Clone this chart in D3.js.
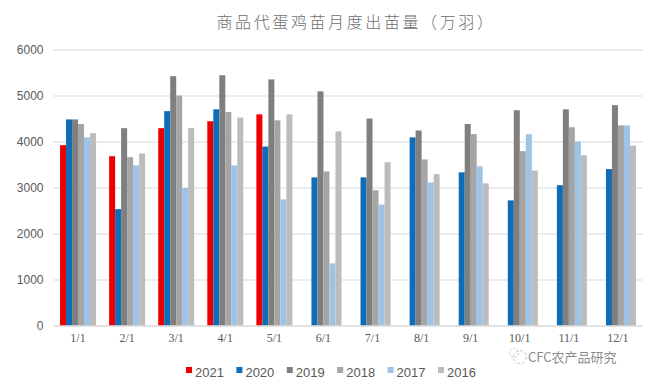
<!DOCTYPE html>
<html>
<head>
<meta charset="utf-8">
<script src="https://cdn.jsdelivr.net/npm/d3@7"></script>
<style>
  html, body { margin: 0; padding: 0; background: #fff; }
</style>
</head>
<body>
<div id="chart"></div>
<script>
const months = ["1/1", "2/1", "3/1", "4/1", "5/1", "6/1", "7/1", "8/1", "9/1", "10/1", "11/1", "12/1"];
const years = ["2021", "2020", "2019", "2018", "2017", "2016"];
const colors = ["#ee0000", "#0f6cb6", "#7f7f7f", "#a5a5a5", "#9dc3e6", "#bcbcbc"];
const yTicks = [0, 1000, 2000, 3000, 4000, 5000, 6000];

const v2021 = [3920, 3680, 4290, 4440, 4590, null, null, null, null, null, null, null];
const v2020 = [4480, 2530, 4660, 4700, 3890, 3220, 3220, 4090, 3330, 2720, 3050, 3400];
const v2019 = [4480, 4290, 5420, 5440, 5350, 5090, 4500, 4240, 4380, 4680, 4700, 4790];
const v2018 = [4380, 3660, 5000, 4640, 4460, 3350, 2940, 3610, 4160, 3790, 4310, 4350];
const v2017 = [4090, 3480, 2990, 3480, 2740, 1350, 2630, 3110, 3460, 4160, 4000, 4350];
const v2016 = [4180, 3740, 4290, 4520, 4590, 4220, 3550, 3290, 3090, 3370, 3700, 3910];
const allValues = [v2021, v2020, v2019, v2018, v2017, v2016];

const width = 656;
const height = 385;
const margin = { top: 49.5, right: 13.5, bottom: 59.5, left: 53.5 };
const sansFont = "'Liberation Sans', sans-serif";
const serifFont = "'Liberation Serif', serif";
const cjkFont = "'Noto Sans CJK SC', sans-serif";

const svg = d3.select("#chart")
  .append("svg")
  .attr("width", width)
  .attr("height", height)
  .style("display", "block");

const x = d3.scaleBand()
  .domain(months)
  .range([margin.left, width - margin.right]);

const x1 = d3.scaleBand()
  .domain(years)
  .range([0, 36]);

const y = d3.scaleLinear()
  .domain([0, 6000])
  .range([height - margin.bottom, margin.top]);

// gridlines come from the y axis with long ticks
const yAxis = svg.append("g")
  .attr("transform", `translate(${margin.left},0)`)
  .call(d3.axisLeft(y).tickValues(yTicks).tickSize(-(width - margin.left - margin.right)).tickPadding(10).tickFormat(d3.format("d")));
yAxis.select(".domain").remove();
yAxis.selectAll("line").attr("stroke", "#d9d9d9").attr("stroke-width", 1);
yAxis.selectAll("text")
  .attr("fill", "#595959")
  .style("font-family", sansFont)
  .style("font-size", "12px");

const groups = svg.append("g");
years.forEach((yr, i) => {
  groups.selectAll(null)
    .data(allValues[i])
    .join("rect")
    .filter(d => d !== null)
    .attr("x", (d, j) => 0)
    .attr("fill", colors[i]);
  groups.selectAll("rect").remove();
});

years.forEach((yr, i) => {
  const rows = months.map((m, j) => ({ month: m, value: allValues[i][j] })).filter(d => d.value !== null);
  svg.append("g")
    .selectAll("rect")
    .data(rows)
    .join("rect")
    .attr("x", d => x(d.month) + (x.bandwidth() - 36) / 2 + x1(yr))
    .attr("y", d => y(d.value))
    .attr("width", x1.bandwidth())
    .attr("height", d => y(0) - y(d.value))
    .attr("fill", colors[i]);
});

const xAxis = svg.append("g")
  .attr("transform", `translate(0,${height - margin.bottom})`)
  .call(d3.axisBottom(x).tickSize(0).tickPadding(8));
xAxis.select(".domain").attr("stroke", "#d9d9d9");
xAxis.selectAll("text")
  .attr("fill", "#595959")
  .style("font-family", serifFont)
  .style("font-size", "12px");

svg.append("text")
  .attr("x", 356)
  .attr("y", 28)
  .attr("text-anchor", "middle")
  .attr("fill", "#6e6e6e")
  .style("font-family", cjkFont)
  .style("font-weight", 300)
  .style("font-size", "16px")
  .style("letter-spacing", "2.6px")
  .text("商品代蛋鸡苗月度出苗量（万羽）");

// legend
const legendX = d3.scalePoint().domain(years).range([186, 438]);
const legend = svg.append("g")
  .selectAll("g")
  .data(years)
  .join("g")
  .attr("transform", d => `translate(${legendX(d)},373)`);
legend.append("rect")
  .attr("x", 0)
  .attr("y", -6)
  .attr("width", 6)
  .attr("height", 6)
  .attr("fill", (d, i) => colors[i]);
legend.append("text")
  .attr("x", 9)
  .attr("y", 4)
  .attr("fill", "#595959")
  .style("font-family", sansFont)
  .style("font-size", "13px")
  .text(d => d);

// watermark
const mark = svg.append("g").attr("transform", "translate(511,358)");
mark.append("circle").attr("cx", 9).attr("cy", -1).attr("r", 6.5)
  .attr("fill", "none").attr("stroke", "#c4c4c4").attr("stroke-width", 1).attr("stroke-dasharray", "3 2");
mark.append("circle").attr("cx", 3).attr("cy", -5).attr("r", 4.5)
  .attr("fill", "none").attr("stroke", "#c4c4c4").attr("stroke-width", 1).attr("stroke-dasharray", "2 2");
svg.append("text")
  .attr("x", 528)
  .attr("y", 362)
  .attr("fill", "#8c8c8c")
  .style("font-family", cjkFont)
  .style("font-size", "13px")
  .text("CFC农产品研究");
</script>
</body>
</html>
